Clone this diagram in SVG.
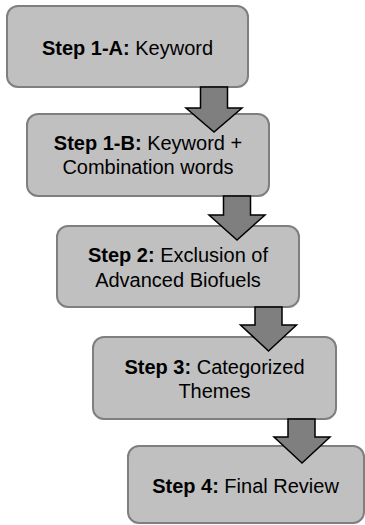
<svg xmlns="http://www.w3.org/2000/svg" width="365" height="525" viewBox="0 0 365 525">
  <style>
    .box { fill: #c0c0c0; stroke: #7f7f7f; stroke-width: 2; }
    .lbl { font-family: "Liberation Sans", Arial, sans-serif; font-size: 20px; fill: #000; text-anchor: middle; }
    .b { font-weight: bold; }
    .arrow { fill: #7f7f7f; stroke: #000; stroke-width: 1.5; stroke-linejoin: miter; }
  </style>
  <rect width="365" height="525" fill="#fff"/>

  <g id="step1a">
    <rect class="box" x="7" y="6" width="241" height="81" rx="11"/>
    <text class="lbl" x="127.5" y="55"><tspan class="b">Step 1-A:</tspan> Keyword</text>
  </g>
  <g id="step1b">
    <rect class="box" x="27" y="114" width="242" height="82" rx="11"/>
    <text class="lbl" x="148" y="150"><tspan class="b">Step 1-B:</tspan> Keyword +</text>
    <text class="lbl" x="148" y="174">Combination words</text>
  </g>
  <g id="step2">
    <rect class="box" x="57" y="226" width="242" height="81" rx="11"/>
    <text class="lbl" x="178" y="262"><tspan class="b">Step 2:</tspan> Exclusion of</text>
    <text class="lbl" x="178" y="287">Advanced Biofuels</text>
  </g>
  <g id="step3">
    <rect class="box" x="93" y="337" width="243" height="82" rx="11"/>
    <text class="lbl" x="214.5" y="374"><tspan class="b">Step 3:</tspan> Categorized</text>
    <text class="lbl" x="214.5" y="398">Themes</text>
  </g>
  <g id="step4">
    <rect class="box" x="128" y="446" width="236" height="77" rx="11"/>
    <text class="lbl" x="245.5" y="493"><tspan class="b">Step 4:</tspan> Final Review</text>
  </g>

  <g id="connectors">
    <!-- block arrows: 27px shaft, 56px head -->
    <path class="arrow" d="M200.5,87 H227.5 V108 H242 L214,132 L186,108 H200.5 Z"/>
    <path class="arrow" d="M223.5,196 H250.5 V215 H265 L237,240 L209,215 H223.5 Z"/>
    <path class="arrow" d="M255,307 H282 V325 H296.5 L268.5,351 L240.5,325 H255 Z"/>
    <path class="arrow" d="M288,419 H315 V437 H330 L302,463 L274,437 H288 Z"/>
  </g>
</svg>
